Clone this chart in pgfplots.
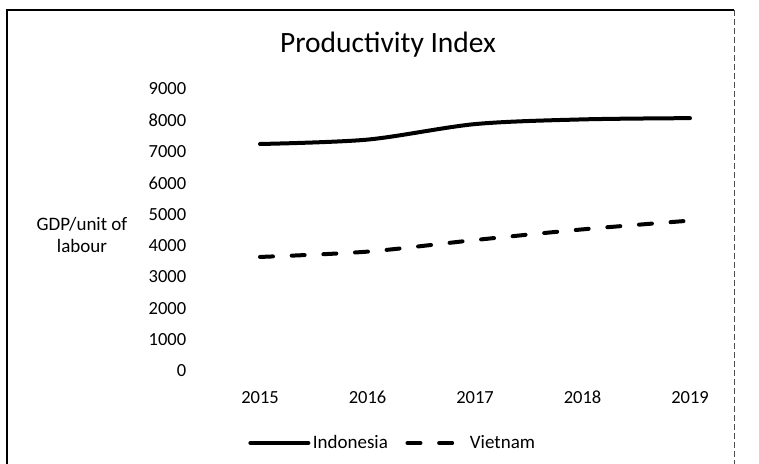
\documentclass[border=0pt]{standalone}
\usepackage{fontspec}
\setmainfont[Numbers=Lining]{Carlito}
\usepackage{pgfplots}
\pgfplotsset{compat=1.18}
\begin{document}
\begin{tikzpicture}[x=1pt,y=1pt]
\path[use as bounding box] (0,0) rectangle (759,463);
% chart frame (image is cropped at the bottom)
\draw[line width=1.2pt] (7,-5) -- (7,453) -- (734,453);
\draw[line width=0.6pt, dash pattern=on 6pt off 3pt, black!70] (734,453) -- (734,-5);
% title
\node[font=\fontsize{29.5}{33}\selectfont] at (388,418) {Productivity Index};
% y axis title
\node[font=\fontsize{19}{22}\selectfont, align=center] at (82,228) {GDP/unit of\\labour};
\begin{axis}[
  at={(206.25pt,92pt)}, anchor=south west,
  scale only axis, width=537.5pt, height=282pt,
  xmin=-0.5, xmax=4.5, ymin=0, ymax=9000,
  axis line style={draw=none},
  major tick length=0pt,
  xtick={0,1,2,3,4},
  xticklabels={2015,2016,2017,2018,2019},
  ytick={0,1000,2000,3000,4000,5000,6000,7000,8000,9000},
  /pgf/number format/1000 sep={},
  /pgf/number format/assume math mode=true,
  ticklabel style={font=\fontsize{18.5}{20}\selectfont, text=black},
  yticklabel style={anchor=east, xshift=-16.5pt},
  xticklabel style={anchor=base, yshift=-32pt},
  legend style={at={(0.3474,-0.2553)}, anchor=center, draw=none, fill=none,
    legend columns=2, font=\fontsize{19}{22}\selectfont,
    nodes={inner xsep=2.5pt, inner ysep=1pt},
    /tikz/every even column/.append style={column sep=15pt}},
  legend cell align=left,
  legend image code/.code={\draw[#1] (0pt,0pt) -- (58pt,0pt);},
]
\addplot[black, line width=4pt, smooth, tension=0.5, line cap=round] coordinates {
  (0,7245) (1,7385) (2,7880) (3,8030) (4,8070)
};
\addlegendentry{Indonesia}
\addplot[black, line width=4pt, smooth, tension=0.5, line cap=round, dash pattern=on 13pt off 18.7pt] coordinates {
  (0,3640) (1,3810) (2,4180) (3,4520) (4,4800)
};
\addlegendentry{Vietnam}
\end{axis}
\end{tikzpicture}
\end{document}
